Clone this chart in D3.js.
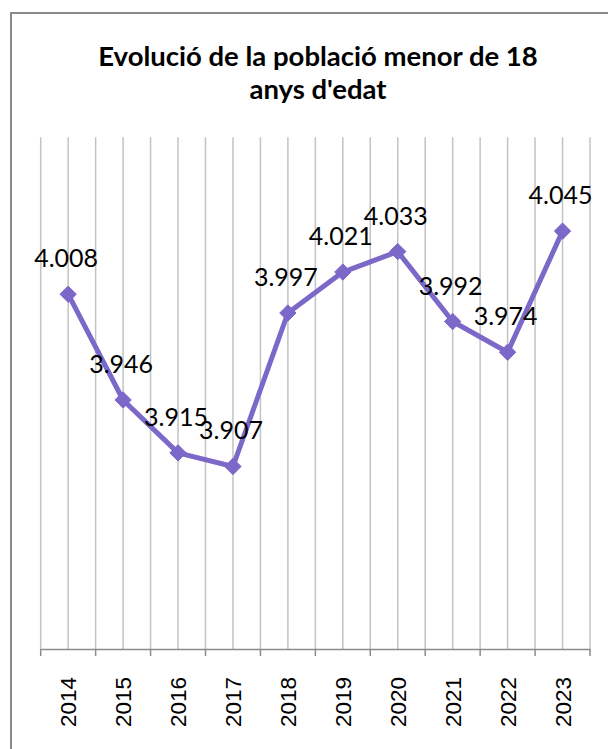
<!DOCTYPE html>
<html>
<head>
<meta charset="utf-8">
<script src="https://cdn.jsdelivr.net/npm/d3@7"></script>
<style>
  body { margin: 0; background: #fff; }
  svg { display: block; }
</style>
</head>
<body>
<svg id="chart"></svg>
<script>
//chart data
var years = ['2014', '2015', '2016', '2017', '2018', '2019', '2020', '2021', '2022', '2023'];
var values = [4.008, 3.946, 3.915, 3.907, 3.997, 4.021, 4.033, 3.992, 3.974, 4.045];
var labels = ['4.008', '3.946', '3.915', '3.907', '3.997', '4.021', '4.033', '3.992', '3.974', '4.045'];
var titleLines = ['Evolució de la població menor de 18', "anys d'edat"];
var yDomain = [3.8, 4.1];

//chart parameters
var svg = d3.select('#chart')
    .attr('width', 608)
    .attr('height', 749);

//define plot extent
var plot = {left: 40.7, right: 590, top: 137.3, bottom: 649};

//define scales
var xScale = d3.scaleBand().domain(years).range([plot.left, plot.right]),
    yScale = d3.scaleLinear().domain(yDomain).range([plot.bottom, plot.top]);

var cx = d => xScale(d) + xScale.bandwidth() / 2;

//outer chart border
svg.append('rect')
    .attr('x', 11)
    .attr('y', 13)
    .attr('width', 620)
    .attr('height', 760)
    .style('fill', 'none')
    .style('stroke', '#8a8a8a')
    .style('stroke-width', 2);

//title
svg.append('text')
    .attr('x', 318)
    .attr('y', 66)
    .style('font-family', 'Lato, "Open Sans", sans-serif')
    .style('font-weight', 'bold')
    .style('font-size', '27.5px')
    .style('fill', '#000')
    .attr('text-anchor', 'middle')
    .selectAll('tspan').data(titleLines)
    .enter().append('tspan')
        .attr('x', 318)
        .attr('dy', (d, i) => i === 0 ? 0 : 33)
        .text(d => d);

//vertical gridlines at category edges and centers
var gridX = [];
years.forEach(d => { gridX.push(xScale(d)); gridX.push(cx(d)); });
gridX.push(xScale(years[years.length - 1]) + xScale.bandwidth());

svg.append('g')
    .attr('class', 'grid')
    .selectAll('line').data(gridX)
    .enter().append('line')
        .attr('x1', d => d)
        .attr('x2', d => d)
        .attr('y1', plot.top)
        .attr('y2', plot.bottom)
        .style('stroke', '#c3c3c3')
        .style('stroke-width', 1.5);

//x axis
var xAxis = svg.append('g')
    .attr('class', 'axis axis-x')
    .attr('transform', 'translate(0,' + plot.bottom + ')')
    .call(d3.axisBottom(xScale).tickSize(0).tickSizeOuter(0).tickFormat(''));

xAxis.select('.domain')
    .style('stroke', '#8c8c8c')
    .style('stroke-width', 1.5);

//tick marks at category boundaries
var edges = years.map(d => xScale(d)).concat([plot.right]);
xAxis.selectAll('.edge').data(edges)
    .enter().append('line')
        .attr('class', 'edge')
        .attr('x1', d => d)
        .attr('x2', d => d)
        .attr('y1', 0)
        .attr('y2', 7)
        .style('stroke', '#8c8c8c')
        .style('stroke-width', 1.5);

//year labels
xAxis.selectAll('.year').data(years)
    .enter().append('text')
        .attr('class', 'year')
        .attr('transform', d => 'translate(' + (cx(d) + 8) + ',' + 28 + ') rotate(-90)')
        .attr('text-anchor', 'end')
        .style('font-family', '"Liberation Sans", Arial, sans-serif')
        .style('font-size', '22.5px')
        .style('fill', '#000')
        .text(d => d);

//data line
var data = years.map((d, i) => ({year: d, value: values[i], label: labels[i]}));

var line = d3.line()
    .x(d => cx(d.year))
    .y(d => yScale(d.value));

svg.append('path')
    .datum(data)
    .attr('d', line)
    .style('fill', 'none')
    .style('stroke', '#7b68c8')
    .style('stroke-width', 5)
    .style('stroke-linejoin', 'round');

//diamond markers
svg.selectAll('.marker').data(data)
    .enter().append('path')
        .attr('class', 'marker')
        .attr('d', d3.symbol().type(d3.symbolDiamond2).size(170))
        .attr('transform', d => 'translate(' + cx(d.year) + ',' + yScale(d.value) + ')')
        .style('fill', '#7b68c8')
        .style('stroke', '#7b68c8')
        .style('stroke-width', 1);

//data labels
svg.selectAll('.dlabel').data(data)
    .enter().append('text')
        .attr('class', 'dlabel')
        .attr('x', d => cx(d.year) - 2)
        .attr('y', d => yScale(d.value) - 27)
        .attr('text-anchor', 'middle')
        .style('font-family', 'Lato, "Open Sans", sans-serif')
        .style('font-size', '25px')
        .style('fill', '#000')
        .text(d => d.label);
</script>
</body>
</html>
